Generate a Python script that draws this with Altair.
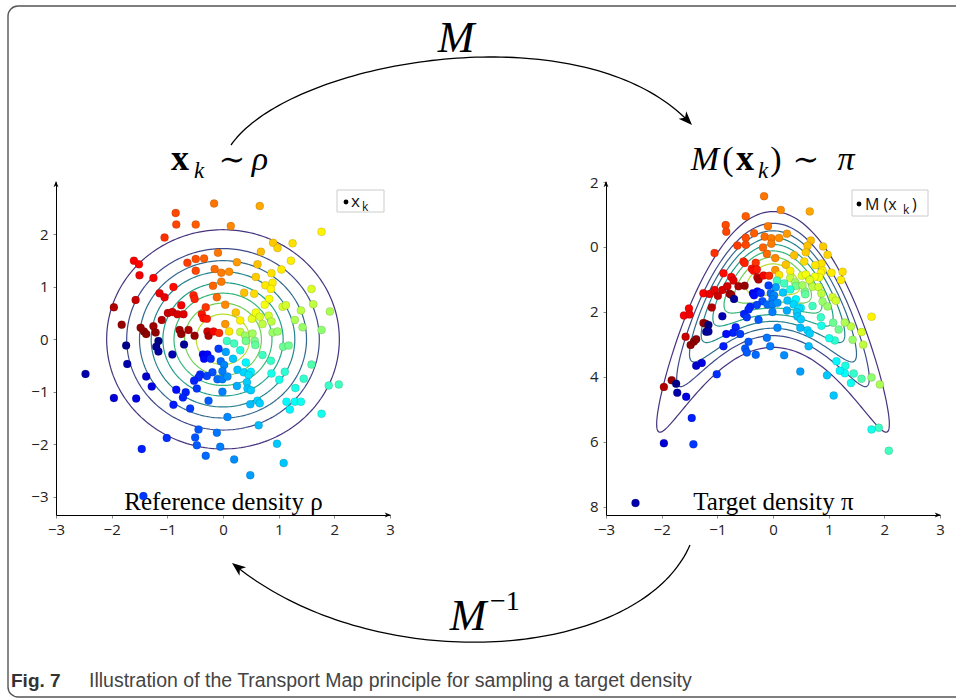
import altair as alt
import numpy as np
import pandas as pd

# ---------------------------------------------------------------------------
# Samples x_k drawn from the 2-D reference density rho (standard normal)
# ---------------------------------------------------------------------------
SAMPLES = [
    (-0.16, 2.59), (0.66, 2.54), (-0.85, 2.41), (-0.84, 2.19), (-0.49, 2.19),
    (0.14, 2.16), (-1.05, 1.94), (1.77, 2.05), (0.90, 1.84), (0.98, 1.74),
    (1.25, 1.83), (-0.09, 1.65), (0.68, 1.67), (-1.60, 1.50), (-1.51, 1.43),
    (-1.50, 1.22), (-0.64, 1.46), (-0.49, 1.53), (-0.34, 1.54), (-0.49, 1.31),
    (-0.15, 1.34), (-0.03, 1.27), (0.11, 1.29), (0.25, 1.47), (0.62, 1.43),
    (1.22, 1.50), (1.05, 1.33), (0.87, 1.26), (0.59, 1.19), (0.89, 1.08),
    (0.76, 1.03), (0.86, 0.96), (-1.25, 1.17), (-0.89, 1.00), (-0.18, 1.02),
    (-0.03, 1.10), (1.59, 0.96), (-1.57, 0.75), (-1.14, 0.88), (-1.05, 0.80),
    (-0.53, 0.84), (-0.51, 0.77), (-0.11, 0.80), (0.38, 0.89), (0.56, 0.87),
    (0.83, 0.77), (0.75, 0.66), (-1.96, 0.61), (-0.75, 0.65), (-0.31, 0.61),
    (0.04, 0.66), (1.07, 0.62), (1.13, 0.65), (1.62, 0.67), (1.92, 0.53),
    (1.40, 0.55), (-0.99, 0.50), (-0.91, 0.52), (-0.82, 0.48), (-0.71, 0.48),
    (-0.38, 0.48), (-0.35, 0.40), (-0.29, 0.39), (0.23, 0.51), (0.31, 0.36),
    (0.52, 0.39), (0.59, 0.51), (0.66, 0.43), (0.71, 0.29), (0.82, 0.45),
    (0.87, 0.34), (1.29, 0.37), (1.43, 0.23), (1.77, 0.18), (-1.82, 0.28),
    (-1.48, 0.22), (-1.42, 0.15), (-1.38, 0.10), (-1.25, 0.25), (-1.21, 0.13),
    (-1.10, 0.37), (-0.78, 0.18), (-0.75, 0.10), (-0.62, 0.18), (-0.51, 0.07),
    (-0.28, 0.15), (-0.26, 0.07), (-0.17, 0.15), (-0.07, 0.12), (0.04, 0.29),
    (0.11, 0.15), (0.31, 0.14), (0.40, 0.07), (0.41, -0.03), (0.57, -0.03),
    (0.58, -0.11), (0.89, 0.13), (0.98, 0.15), (0.53, 0.11), (0.07, -0.03),
    (0.20, -0.08), (0.31, -0.21), (1.08, -0.14), (1.18, -0.12), (0.71, -0.30),
    (0.86, -0.41), (1.59, -0.48), (0.05, -0.24), (0.18, -0.37), (0.41, -0.44),
    (1.11, -0.62), (0.87, -0.65), (1.01, -0.77), (1.45, -0.75), (1.30, -0.93),
    (1.90, -0.88), (2.08, -0.86), (0.26, -0.58), (0.37, -0.63), (0.50, -0.62),
    (0.46, -0.68), (0.43, -0.82), (0.44, -0.94), (0.50, -0.97), (0.25, -0.89),
    (0.49, -1.24), (0.62, -1.17), (0.66, -1.22), (1.14, -1.19), (1.29, -1.19),
    (1.40, -1.19), (1.20, -1.34), (1.77, -1.42), (0.08, -1.48), (0.64, -1.64),
    (0.97, -1.99), (1.09, -2.36), (0.49, -2.59), (0.20, -2.29), (-0.05, -2.05),
    (-0.11, -1.78), (-0.08, -0.18), (-0.36, -0.29), (-0.28, -0.29), (-0.34, -0.37),
    (-0.22, -0.37), (-0.04, -0.42), (0.02, -0.49), (-0.01, -0.61), (-0.19, -0.63),
    (-0.29, -0.70), (-0.41, -0.67), (-0.44, -0.73), (-0.52, -0.79), (-0.47, -0.94),
    (-0.10, -0.76), (-0.01, -0.76), (0.08, -0.71), (-0.01, -1.00), (-0.26, -1.17),
    (-0.67, -1.01), (-0.72, -1.11), (-0.59, -1.32), (-0.84, -0.96), (-0.89, -1.25),
    (-0.44, -1.72), (-0.50, -1.87), (-0.47, -2.02), (-0.31, -2.22), (-1.01, -1.88),
    (-1.46, -2.09), (-1.43, -2.99), (-1.96, -1.12), (-1.56, -1.13), (-1.28, -0.90),
    (-1.38, -0.71), (-1.72, -0.47), (-1.74, -0.12), (-2.47, -0.66), (-1.16, -0.03),
    (-1.20, -0.14), (-1.16, -0.23), (-0.91, -0.29), (-0.70, -0.10),
]

# Level sets of rho (circles) and their colours, outermost first
CONTOUR_RADII = [2.09, 1.73, 1.50, 1.29, 1.08, 0.88, 0.69, 0.48]
CONTOUR_COLORS = ["#46337e", "#3e4a89", "#31688e", "#26828e",
                  "#1f9e89", "#35b779", "#6ece58", "#b5de2b"]

# Transport map  M(x) = (x1, MAP_SHIFT + MAP_CURV * x1^2 - x2)
MAP_SHIFT = 1.0
MAP_CURV = 1.02

X_TICKS = [-3, -2, -1, 0, 1, 2, 3]
Y_TICKS_REF = [-3, -2, -1, 0, 1, 2]
Y_TICKS_TGT = [-2, 0, 2, 4, 6, 8]

# jet colour map, indexed by the polar angle of each reference sample
JET_STOPS = [0, 0.125, 0.375, 0.625, 0.875, 1]
JET_COLORS = ["#00007f", "#0000ff", "#00ffff", "#ffff00", "#ff0000", "#7f0000"]

SERIF = "Liberation Serif, DejaVu Serif, serif"
SANS = "Open Sans, Noto Sans, sans-serif"
NARROW = "Liberation Sans Narrow, Liberation Sans, sans-serif"

# ---------------------------------------------------------------------------
samples = pd.DataFrame(SAMPLES, columns=["x1", "x2"])

theta = np.linspace(0, 2 * np.pi, 241)
contours = pd.concat(
    [pd.DataFrame({"lev": r, "i": np.arange(theta.size),
                   "x1": r * np.cos(theta), "x2": r * np.sin(theta)})
     for r in CONTOUR_RADII],
    ignore_index=True,
)

MAP_EXPR = f"{MAP_SHIFT} + {MAP_CURV} * datum.x1 * datum.x1 - datum.x2"
HUE_EXPR = "atan2(datum.x2, datum.x1) / (2 * PI) + 0.5"

jet = alt.Scale(domain=JET_STOPS, range=JET_COLORS, interpolate="rgb")
contour_scale = alt.Scale(domain=CONTOUR_RADII, range=CONTOUR_COLORS)

# panel geometry (pixels on the 956 x 700 canvas)
AXIS_Y = 515
TOP_Y = 182
L_LEFT, L_RIGHT = 56, 390
R_LEFT, R_RIGHT = 606, 940
H = 700

xL = alt.Scale(domain=[-3, 3], range=[L_LEFT, L_RIGHT], nice=False, zero=False)
yL = alt.Scale(domain=[-3.35, 3.0], range=[AXIS_Y, TOP_Y], nice=False, zero=False)
xR = alt.Scale(domain=[-3, 3], range=[R_LEFT, R_RIGHT], nice=False, zero=False)
yR = alt.Scale(domain=[-2, 8.25], range=[TOP_Y, AXIS_Y], nice=False, zero=False)

axis_style = dict(
    grid=False, domainColor="black", domainWidth=1, tickColor="#888",
    tickSize=3, tickWidth=1, labelFont=SANS, labelFontSize=15,
    labelColor="#222", labelFlush=False, labelOverlap=False,
)
title_style = dict(titleFont=SERIF, titleFontSize=25, titleFontWeight="normal",
                   titleColor="black", titleY=-6, titleBaseline="alphabetic")

ax_xL = alt.Axis(orient="bottom", offset=AXIS_Y - H, values=X_TICKS,
                 title="Reference density ρ", labelPadding=4,
                 **title_style, **axis_style)
ax_yL = alt.Axis(orient="left", offset=-L_LEFT, values=Y_TICKS_REF, title=None,
                 labelPadding=5, **axis_style)
ax_xR = alt.Axis(orient="bottom", offset=AXIS_Y - H, values=X_TICKS,
                 title="Target density π", labelPadding=4,
                 **title_style, **axis_style)
ax_yR = alt.Axis(orient="left", offset=-R_LEFT, values=Y_TICKS_TGT, title=None,
                 labelPadding=5, labelExpr="format(abs(datum.value), 'd')",
                 **axis_style)

# --- reference panel -------------------------------------------------------
ref_contours = alt.Chart(contours).mark_line(strokeWidth=1.2).encode(
    x=alt.X("x1:Q", scale=xL, axis=ax_xL),
    y=alt.Y("x2:Q", scale=yL, axis=ax_yL),
    detail="lev:N",
    order="i:Q",
    stroke=alt.Stroke("lev:N", scale=contour_scale, legend=None),
)
ref_points = alt.Chart(samples).transform_calculate(hue=HUE_EXPR).mark_circle(
    size=64, opacity=1, stroke="black", strokeWidth=0.5, strokeOpacity=0.25
).encode(
    x=alt.X("x1:Q", scale=xL, axis=None),
    y=alt.Y("x2:Q", scale=yL, axis=None),
    fill=alt.Fill("hue:Q", scale=jet, legend=None),
)

# --- target panel: push-forward through M -----------------------------------
tgt_contours = alt.Chart(contours).transform_calculate(m2=MAP_EXPR).mark_line(
    strokeWidth=1.2
).encode(
    x=alt.X("x1:Q", scale=xR, axis=ax_xR),
    y=alt.Y("m2:Q", scale=yR, axis=ax_yR),
    detail="lev:N",
    order="i:Q",
    stroke=alt.Stroke("lev:N", scale=contour_scale, legend=None),
)
tgt_points = alt.Chart(samples).transform_calculate(
    m2=MAP_EXPR, hue=HUE_EXPR
).mark_circle(
    size=64, opacity=1, stroke="black", strokeWidth=0.5, strokeOpacity=0.25
).encode(
    x=alt.X("x1:Q", scale=xR, axis=None),
    y=alt.Y("m2:Q", scale=yR, axis=None),
    fill=alt.Fill("hue:Q", scale=jet, legend=None),
)

# --- decorations -------------------------------------------------------------
one = pd.DataFrame({"k": [0]})
STEALTH = "M0,0 L-2,-0.78 L-1.45,0 L-2,0.78 Z"


def text(s, x, y, size, font=SERIF, style="normal", weight="normal",
         align="center", color="black"):
    return alt.Chart(one).mark_text(
        text=s, font=font, fontSize=size, fontStyle=style, fontWeight=weight,
        align=align, baseline="alphabetic", color=color,
    ).encode(x=alt.value(x), y=alt.value(y))


def head(x, y, angle, size):
    return alt.Chart(one).mark_point(
        shape=STEALTH, angle=angle % 360, size=size, filled=True,
        color="black", opacity=1, strokeWidth=0,
    ).encode(x=alt.value(x), y=alt.value(y))


def bezier(p0, p1, p2, p3, n=90):
    t = np.linspace(0, 1, n)[:, None]
    p0, p1, p2, p3 = (np.array(p, float) for p in (p0, p1, p2, p3))
    return ((1 - t) ** 3) * p0 + 3 * ((1 - t) ** 2) * t * p1 \
        + 3 * (1 - t) * (t ** 2) * p2 + (t ** 3) * p3


arcs = []
arc_specs = {
    "M": ((231, 145), (290, 60), (580, 10), (688, 121)),
    "Minv": ((690, 545), (640, 660), (380, 680), (237, 567)),
}
for name, pts in arc_specs.items():
    b = bezier(*pts)
    arcs.append(pd.DataFrame({"arc": name, "i": np.arange(len(b)),
                              "px": b[:, 0], "py": b[:, 1]}))
arcs = pd.concat(arcs, ignore_index=True)

arc_lines = alt.Chart(arcs).mark_line(color="black", strokeWidth=1.3).encode(
    x=alt.X("px:Q", scale=alt.Scale(domain=[0, 956], range=[0, 956]), axis=None),
    y=alt.Y("py:Q", scale=alt.Scale(domain=[0, 700], range=[0, 700]), axis=None),
    detail="arc:N",
    order="i:Q",
)


def end_angle(p2, p3):
    return float(np.degrees(np.arctan2(p3[1] - p2[1], p3[0] - p2[0])))


a_top = end_angle(arc_specs["M"][2], arc_specs["M"][3])
a_bot = end_angle(arc_specs["Minv"][2], arc_specs["Minv"][3])

frame = alt.Chart(one).mark_rect(
    cornerRadius=10, fillOpacity=0, stroke="#555", strokeWidth=1.4
).encode(x=alt.value(8), x2=alt.value(1020), y=alt.value(6), y2=alt.value(697))


def legend_box(x0, x1, y0, y1):
    return alt.Chart(one).mark_rect(
        fill="white", stroke="#cccccc", strokeWidth=1
    ).encode(x=alt.value(x0), x2=alt.value(x1), y=alt.value(y0), y2=alt.value(y1))


def legend_dot(x, y):
    return alt.Chart(one).mark_circle(size=24, color="black", opacity=1).encode(
        x=alt.value(x), y=alt.value(y))


decor = [
    frame,
    arc_lines,
    head(692, 125, a_top, 190),
    head(232, 563, a_bot, 190),
    # axis arrow tips
    head(L_RIGHT + 1, AXIS_Y, 0, 40), head(L_LEFT, TOP_Y - 1, 270, 40),
    head(R_RIGHT + 1, AXIS_Y, 0, 40), head(R_LEFT, TOP_Y - 1, 270, 40),
    # map labels
    text("M", 456, 52, 44, style="italic"),
    text("M", 468, 630, 44, style="italic"),
    text("−1", 490, 610, 28, align="left"),
    # panel headings
    text("x", 180, 170, 36, weight="bold"),
    text("k", 199, 178, 23, style="italic"),
    text("∼", 232, 170, 32),
    text("ρ", 260, 170, 34, style="italic"),
    text("M", 705, 170, 34, style="italic"),
    text("(", 728, 170, 34),
    text("x", 745, 170, 36, weight="bold"),
    text("k", 763, 178, 23, style="italic"),
    text(")", 776, 170, 34),
    text("∼", 806, 170, 32),
    text("π", 846, 170, 34, style="italic"),
    # legends
    legend_box(337, 384, 190, 212), legend_dot(346, 202),
    text("x", 351, 207, 17, font=SANS, align="left", color="#111"),
    text("k", 362, 211, 12, font=SANS, align="left", color="#111"),
    legend_box(852, 928, 190, 216), legend_dot(859, 204),
    text("M (x", 865, 210, 16, font=SANS, align="left", color="#111"),
    text("k", 903, 214, 12, font=SANS, align="left", color="#111"),
    text(")", 912, 210, 16, font=SANS, align="left", color="#111"),
    # caption
    text("Fig. 7", 11, 687, 19, font=NARROW, weight="bold", align="left", color="#333"),
    text("Illustration of the Transport Map principle for sampling a target density",
         89, 687, 19.5, font=NARROW, align="left", color="#444"),
]

chart = alt.layer(
    ref_contours, ref_points, tgt_contours, tgt_points, *decor
).resolve_scale(
    x="independent", y="independent"
).properties(
    width=956, height=H, padding=0, autosize=alt.AutoSizeParams(type="none"),
    background="white",
).configure_view(strokeWidth=0)

chart.save("out.html", embed_options={"renderer": "svg", "actions": False})
